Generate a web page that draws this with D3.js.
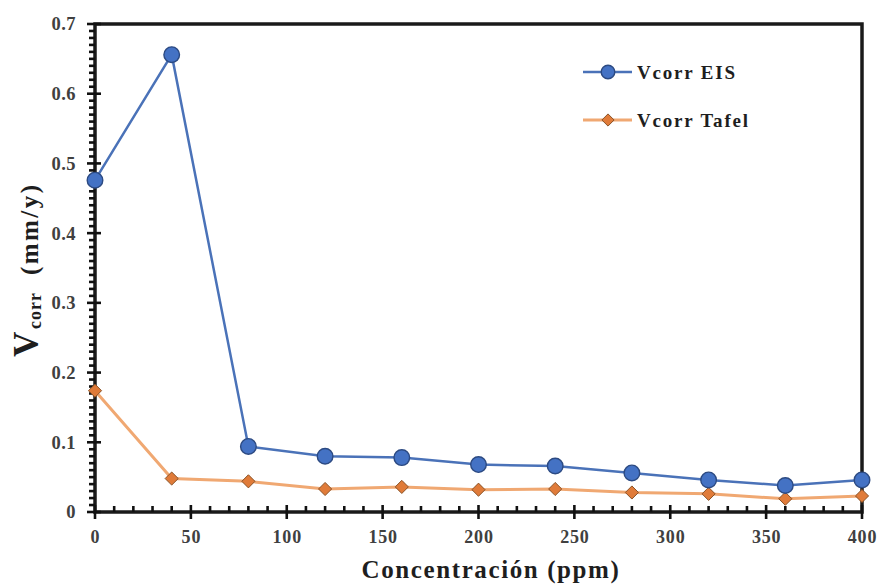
<!DOCTYPE html>
<html>
<head>
<meta charset="utf-8">
<script src="https://cdn.jsdelivr.net/npm/d3@7/dist/d3.min.js"></script>
<style>
  html, body { margin: 0; padding: 0; background: #fff; }
  svg { display: block; }
  text { font-family: "Liberation Serif", "Times New Roman", serif; font-weight: bold; }
</style>
</head>
<body>
<svg id="chart" width="881" height="585"></svg>
<script>
// Corrosion rate versus inhibitor concentration
const concentrations = [0, 40, 80, 120, 160, 200, 240, 280, 320, 360, 400];
const vcorrEIS   = [0.476, 0.656, 0.094, 0.080, 0.078, 0.068, 0.066, 0.056, 0.046, 0.038, 0.046];
const vcorrTafel = [0.174, 0.048, 0.044, 0.033, 0.036, 0.032, 0.033, 0.028, 0.026, 0.019, 0.023];

const xTickValues = [0, 50, 100, 150, 200, 250, 300, 350, 400];
const yTickValues = [0, 0.1, 0.2, 0.3, 0.4, 0.5, 0.6, 0.7];
const yTickLabels = ["0", "0.1", "0.2", "0.3", "0.4", "0.5", "0.6", "0.7"];
const seriesNames = ["Vcorr EIS", "Vcorr Tafel"];

const svg = d3.select("#chart");
const plotLeft = 95, plotRight = 862, plotTop = 24, plotBottom = 512;

const x = d3.scaleLinear().domain([0, 400]).range([plotLeft, plotRight]);
const y = d3.scaleLinear().domain([0, 0.7]).range([plotBottom, plotTop]);

const axisColor = "#111";
const labelColor = "#404040";

// plot frame
svg.append("rect")
  .attr("x", plotLeft).attr("y", plotTop)
  .attr("width", plotRight - plotLeft).attr("height", plotBottom - plotTop)
  .attr("fill", "none").attr("stroke", "#1a1a1a").attr("stroke-width", 3.5);

// minor ticks: x every 10 ppm (pointing inward), y every 0.01 (pointing outward)
const xMinor = d3.range(10, 400, 10).filter(v => v % 50 !== 0);
const yMinor = d3.range(1, 70).filter(v => v % 10 !== 0).map(v => v / 100);

const ticks = svg.append("g").attr("stroke", axisColor).attr("stroke-width", 2.6);
ticks.selectAll("line.xminor").data(xMinor).join("line").attr("class", "xminor")
  .attr("x1", d => x(d)).attr("x2", d => x(d))
  .attr("y1", plotBottom).attr("y2", plotBottom - 6);
ticks.selectAll("line.yminor").data(yMinor).join("line").attr("class", "yminor")
  .attr("x1", plotLeft).attr("x2", plotLeft - 6)
  .attr("y1", d => y(d)).attr("y2", d => y(d));
// major ticks cross the axis line
ticks.selectAll("line.xmajor").data(xTickValues).join("line").attr("class", "xmajor")
  .attr("x1", d => x(d)).attr("x2", d => x(d))
  .attr("y1", plotBottom - 7).attr("y2", plotBottom + 7);
ticks.selectAll("line.ymajor").data(yTickValues).join("line").attr("class", "ymajor")
  .attr("x1", plotLeft - 8).attr("x2", plotLeft + 6)
  .attr("y1", d => y(d)).attr("y2", d => y(d));

// tick labels from d3 axes (marks drawn above)
const xAxis = svg.append("g")
  .attr("transform", `translate(0,${plotBottom})`)
  .call(d3.axisBottom(x).tickValues(xTickValues).tickSize(6).tickPadding(12).tickSizeOuter(0));
xAxis.select(".domain").remove();
xAxis.selectAll(".tick line").remove();
xAxis.selectAll(".tick text").attr("fill", labelColor)
  .style("font-size", "18px").style("letter-spacing", "0.8px");

const yAxis = svg.append("g")
  .attr("transform", `translate(${plotLeft},0)`)
  .call(d3.axisLeft(y).tickValues(yTickValues).tickSize(7).tickPadding(12).tickSizeOuter(0)
    .tickFormat((d, i) => yTickLabels[i]));
yAxis.select(".domain").remove();
yAxis.selectAll(".tick line").remove();
yAxis.selectAll(".tick text").attr("fill", labelColor)
  .style("font-size", "18.5px").style("letter-spacing", "0.5px");

// series
const eisData = concentrations.map((c, i) => [c, vcorrEIS[i]]);
const tafelData = concentrations.map((c, i) => [c, vcorrTafel[i]]);
const lineGen = d3.line().x(d => x(d[0])).y(d => y(d[1]));

const blueLine = "#4a72b8", blueFill = "#4472c4", blueStroke = "#2c4a82";
const orangeLine = "#f0a872", orangeFill = "#e07b39", orangeStroke = "#8a5226";

svg.append("path").datum(tafelData).attr("d", lineGen)
  .attr("fill", "none").attr("stroke", orangeLine).attr("stroke-width", 3);
svg.append("path").datum(eisData).attr("d", lineGen)
  .attr("fill", "none").attr("stroke", blueLine).attr("stroke-width", 2.5);

const diamond = d3.symbol().type(d3.symbolDiamond2).size(110);

svg.append("g").selectAll("path").data(tafelData).join("path")
  .attr("d", diamond)
  .attr("transform", d => `translate(${x(d[0])},${y(d[1])})`)
  .attr("fill", orangeFill).attr("stroke", orangeStroke).attr("stroke-width", 1);

svg.append("g").selectAll("circle").data(eisData).join("circle")
  .attr("cx", d => x(d[0])).attr("cy", d => y(d[1])).attr("r", 7.8)
  .attr("fill", blueFill).attr("stroke", blueStroke).attr("stroke-width", 1.4);

// legend
const legend = svg.append("g");
const legendRows = [
  { name: seriesNames[0], y: 72, line: blueLine, w: 2.5, kind: "circle" },
  { name: seriesNames[1], y: 120, line: orangeLine, w: 3, kind: "diamond" }
];
legendRows.forEach(r => {
  legend.append("line").attr("x1", 583).attr("x2", 632).attr("y1", r.y).attr("y2", r.y)
    .attr("stroke", r.line).attr("stroke-width", r.w);
  if (r.kind === "circle") {
    legend.append("circle").attr("cx", 608).attr("cy", r.y).attr("r", 6.8)
      .attr("fill", blueFill).attr("stroke", blueStroke).attr("stroke-width", 1.4);
  } else {
    legend.append("path").attr("d", d3.symbol().type(d3.symbolDiamond2).size(95))
      .attr("transform", `translate(608,${r.y})`)
      .attr("fill", orangeFill).attr("stroke", orangeStroke).attr("stroke-width", 1);
  }
  legend.append("text").attr("x", 637).attr("y", r.y + 6.5)
    .attr("fill", "#1e1e1e").style("font-size", "19px").style("letter-spacing", "1.8px")
    .text(r.name);
});

// axis titles
svg.append("text")
  .attr("x", 491).attr("y", 578)
  .attr("text-anchor", "middle").attr("fill", "#1e1e1e")
  .style("font-size", "25px").style("letter-spacing", "1.6px")
  .text("Concentración (ppm)");

const yTitle = svg.append("text")
  .attr("transform", "translate(38,357) rotate(-90)")
  .attr("fill", "#1e1e1e");
yTitle.append("tspan").attr("x", 0).style("font-size", "35px").text("V");
yTitle.append("tspan").attr("x", 28).attr("dy", 3).style("font-size", "18px")
  .attr("textLength", 36).attr("lengthAdjust", "spacing").text("corr");
yTitle.append("tspan").attr("x", 82).attr("dy", -3).style("font-size", "25px")
  .attr("textLength", 90).attr("lengthAdjust", "spacing").text("(mm/y)");
</script>
</body>
</html>
